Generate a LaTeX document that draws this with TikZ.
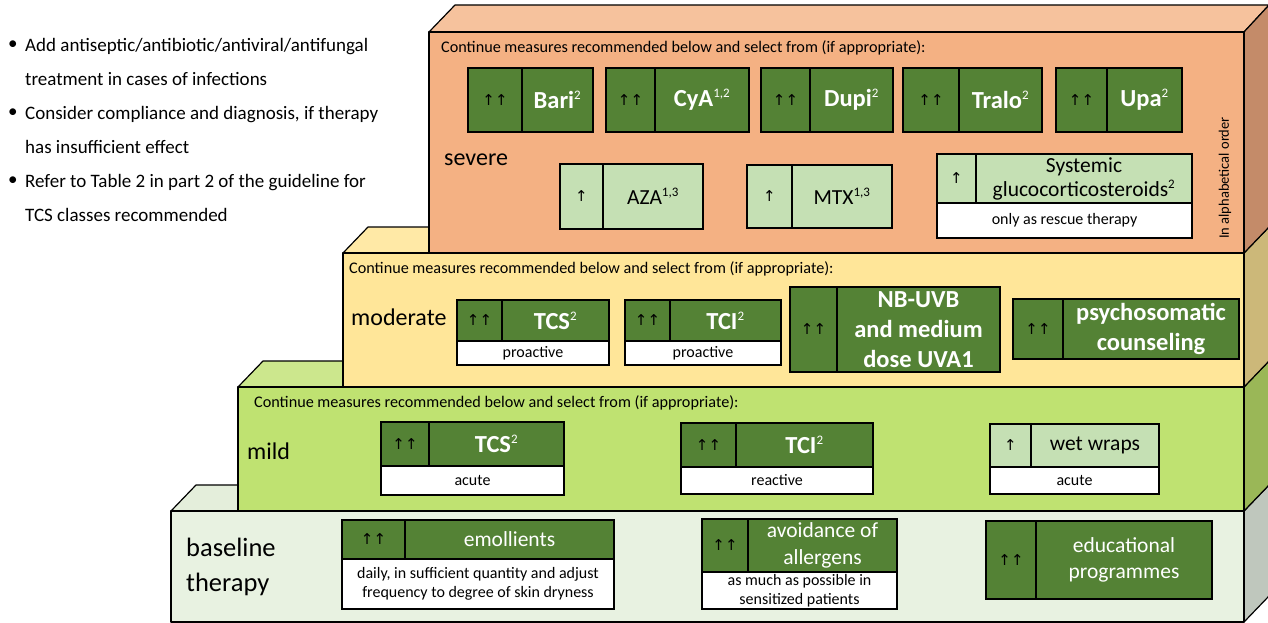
\documentclass[tikz,border=0pt]{standalone}
\usepackage{fontspec}
\setmainfont{Carlito}
\newfontfamily\arrowfont{DejaVu Sans}
\usepackage{xcolor}
\usepackage{tikz}
\usetikzlibrary{positioning}

\definecolor{darkgreen}{HTML}{548235}
\definecolor{lightgreen}{HTML}{C5E0B4}
\definecolor{sevfront}{HTML}{F4B183}
\definecolor{sevtop}{HTML}{F6C29D}
\definecolor{sevside}{HTML}{C48B69}
\definecolor{modfront}{HTML}{FFE699}
\definecolor{modtop}{HTML}{FFE9A6}
\definecolor{modside}{HTML}{CCB879}
\definecolor{mildfront}{HTML}{BFE271}
\definecolor{mildtop}{HTML}{CCE78D}
\definecolor{mildside}{HTML}{9AB757}
\definecolor{basefront}{HTML}{E8F2E1}
\definecolor{basetop}{HTML}{E4EEDB}
\definecolor{baseside}{HTML}{BFC7BD}

\newcommand{\refnum}[1]{\textsuperscript{\fontsize{13}{13}\selectfont\mdseries #1}}

\begin{document}
\begin{tikzpicture}[
		x=1pt, y=-1pt,
		node distance=0pt and 0pt,
		layer/.style={draw=black, line width=1.2pt, line join=round},
		cell/.style={rectangle, draw=black, line width=1.2pt, inner sep=0pt, outer sep=0pt},
		rating/.style={cell, anchor=north west, font=\arrowfont\fontsize{15}{15}\selectfont},
		strong/.style={rating, fill=darkgreen},
		weak/.style={rating, fill=lightgreen},
		drug/.style={cell, align=center, fill=darkgreen, text=white, font=\fontsize{24.5}{30}\selectfont\bfseries},
		measure/.style={cell, align=center, fill=darkgreen, text=white, font=\fontsize{21.5}{26.5}\selectfont},
		option/.style={cell, align=center, fill=lightgreen, font=\fontsize{21.5}{24}\selectfont},
		note/.style={cell, anchor=north west, align=center, fill=white, font=\fontsize{16}{19.5}\selectfont},
		hint/.style={anchor=west, inner sep=0pt, font=\fontsize{16.2}{19}\selectfont},
		level/.style={anchor=west, inner sep=0pt, align=left, font=\fontsize{24}{34}\selectfont},
		bullet/.style={anchor=west, inner sep=0pt, align=left, font=\fontsize{19}{34}\selectfont}
		]
		\useasboundingbox (0,0) rectangle (1268,623);
		
		% General advice at top left
		\node[bullet] (dotA) at (8,45) {•};
		\node[bullet] (adviceA) at (25,62) {Add antiseptic/antibiotic/antiviral/antifungal\\treatment in cases of infections};
		\node[bullet] (dotB) at (8,113) {•};
		\node[bullet] (adviceB) at (25,130) {Consider compliance and diagnosis, if therapy\\has insufficient effect};
		\node[bullet] (dotC) at (8,181) {•};
		\node[bullet] (adviceC) at (25,198) {Refer to Table 2 in part 2 of the guideline for\\TCS classes recommended};
		
		% Stacked levels, from the bottom up
		\draw[layer, fill=basetop] (171,511) -- (196,485) -- (1269,485) -- (1244,511) -- cycle;
		\draw[layer, fill=baseside] (1244,511) -- (1269,485) -- (1269,596) -- (1244,622) -- cycle;
		\draw[layer, fill=basefront] (171,511) rectangle (1244,622);
		
		\draw[layer, fill=mildtop] (238,387) -- (263,361) -- (1269,361) -- (1244,387) -- cycle;
		\draw[layer, fill=mildside] (1244,387) -- (1269,361) -- (1269,485) -- (1244,511) -- cycle;
		\draw[layer, fill=mildfront] (238,387) rectangle (1244,511);
		
		\draw[layer, fill=modtop] (343,253) -- (368,227) -- (1269,227) -- (1244,253) -- cycle;
		\draw[layer, fill=modside] (1244,253) -- (1269,227) -- (1269,361) -- (1244,387) -- cycle;
		\draw[layer, fill=modfront] (343,253) rectangle (1244,387);
		
		\draw[layer, fill=sevtop] (429,32) -- (455,5) -- (1269,5) -- (1244,32) -- cycle;
		\draw[layer, fill=sevside] (1244,32) -- (1269,5) -- (1269,227) -- (1244,253) -- cycle;
		\draw[layer, fill=sevfront] (429,32) rectangle (1244,253);
		
		% Severe level
		\node[hint] (sevhint) at (441,48) {Continue measures recommended below and select from (if appropriate):};
		\node[level] (severe) at (444,160) {severe};
		\node[anchor=center, rotate=90, inner sep=0pt, font=\fontsize{14.5}{16}\selectfont] (order) at (1225,178) {In alphabetical order};
		
		\node[strong, minimum width=54, minimum height=64] (bariR) at (468,68) {↑↑};
		\node[drug, minimum width=71, minimum height=64, right=of bariR] (bari) {Bari\refnum{2}};
		\node[strong, minimum width=49, minimum height=64] (cyaR) at (606,68) {↑↑};
		\node[drug, minimum width=94, minimum height=64, right=of cyaR] (cya) {CyA\refnum{1,2}};
		\node[strong, minimum width=49, minimum height=64] (dupiR) at (761,68) {↑↑};
		\node[drug, minimum width=83, minimum height=64, right=of dupiR] (dupi) {Dupi\refnum{2}};
		\node[strong, minimum width=56, minimum height=64] (traloR) at (903,68) {↑↑};
		\node[drug, minimum width=83, minimum height=64, right=of traloR] (tralo) {Tralo\refnum{2}};
		\node[strong, minimum width=51, minimum height=64] (upaR) at (1056,68) {↑↑};
		\node[drug, minimum width=75, minimum height=64, right=of upaR] (upa) {Upa\refnum{2}};
		
		\node[weak, minimum width=43, minimum height=65] (azaR) at (560,164) {↑};
		\node[option, minimum width=100, minimum height=65, right=of azaR] (aza) {AZA\refnum{1,3}};
		\node[weak, minimum width=45, minimum height=63] (mtxR) at (747,165) {↑};
		\node[option, minimum width=100, minimum height=63, right=of mtxR] (mtx) {MTX\refnum{1,3}};
		\node[weak, minimum width=39, minimum height=49] (gcsR) at (937,154) {↑};
		\node[option, minimum width=216, minimum height=49, right=of gcsR] (gcs) {Systemic\\glucocorticosteroids\refnum{2}};
		\node[note, minimum width=255, minimum height=35, below right=of gcsR.south west] (gcsN) {only as rescue therapy};
		
		% Moderate level
		\node[hint] (modhint) at (349,269) {Continue measures recommended below and select from (if appropriate):};
		\node[level] (moderate) at (351,317) {moderate};
		
		\node[strong, minimum width=45, minimum height=41] (mtcsR) at (457,300) {↑↑};
		\node[drug, minimum width=107, minimum height=41, right=of mtcsR] (mtcs) {TCS\refnum{2}};
		\node[note, minimum width=152, minimum height=24, below right=of mtcsR.south west] (mtcsN) {proactive};
		\node[strong, minimum width=45, minimum height=41] (mtciR) at (625,300) {↑↑};
		\node[drug, minimum width=111, minimum height=41, right=of mtciR] (mtci) {TCI\refnum{2}};
		\node[note, minimum width=156, minimum height=24, below right=of mtciR.south west] (mtciN) {proactive};
		\node[strong, minimum width=47, minimum height=85] (uvR) at (790,287) {↑↑};
		\node[drug, minimum width=163, minimum height=85, right=of uvR] (uv) {NB-UVB\\and medium\\dose UVA1};
		\node[strong, minimum width=50, minimum height=60] (psyR) at (1013,299) {↑↑};
		\node[drug, minimum width=176, minimum height=60, right=of psyR] (psy) {psychosomatic\\counseling};
		
		% Mild level
		\node[hint] (mildhint) at (254,403) {Continue measures recommended below and select from (if appropriate):};
		\node[level] (mild) at (247,451) {mild};
		
		\node[strong, minimum width=48, minimum height=44] (tcsR) at (381,422) {↑↑};
		\node[drug, minimum width=135, minimum height=44, right=of tcsR] (tcs) {TCS\refnum{2}};
		\node[note, minimum width=183, minimum height=29, below right=of tcsR.south west] (tcsN) {acute};
		\node[strong, minimum width=55, minimum height=44] (tciR) at (681,423) {↑↑};
		\node[drug, minimum width=137, minimum height=44, right=of tciR] (tci) {TCI\refnum{2}};
		\node[note, minimum width=192, minimum height=27, below right=of tciR.south west] (tciN) {reactive};
		\node[weak, minimum width=41, minimum height=43] (wrapR) at (990,424) {↑};
		\node[option, minimum width=128, minimum height=43, right=of wrapR] (wrap) {wet wraps};
		\node[note, minimum width=169, minimum height=27, below right=of wrapR.south west] (wrapN) {acute};
		
		% Baseline therapy
		\node[level, font=\fontsize{26.5}{35}\selectfont] (baseline) at (186,567) {baseline\\therapy};
		
		\node[strong, minimum width=63, minimum height=39] (emoR) at (342,520) {↑↑};
		\node[measure, minimum width=209, minimum height=39, right=of emoR] (emo) {emollients};
		\node[note, minimum width=272, minimum height=50, below right=of emoR.south west] (emoN) {daily, in sufficient quantity and adjust\\frequency to degree of skin dryness};
		\node[strong, minimum width=46, minimum height=53] (allR) at (702,519) {↑↑};
		\node[measure, minimum width=149, minimum height=53, right=of allR] (all) {avoidance of\\allergens};
		\node[note, minimum width=195, minimum height=37, below right=of allR.south west] (allN) {as much as possible in\\sensitized patients};
		\node[strong, minimum width=50, minimum height=78] (eduR) at (986,521) {↑↑};
		\node[measure, minimum width=176, minimum height=78, right=of eduR] (edu) {educational\\programmes};
		
	\end{tikzpicture}
\end{document}
